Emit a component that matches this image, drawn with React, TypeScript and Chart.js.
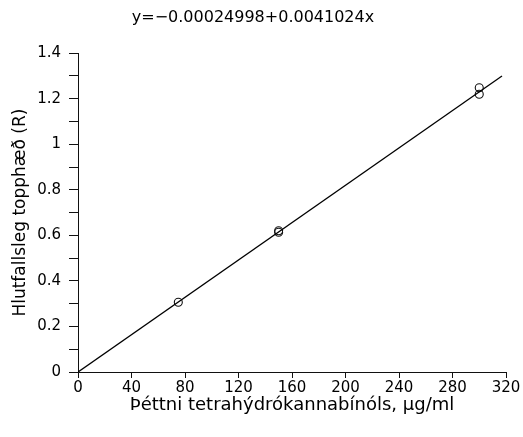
import React, { useEffect, useRef } from 'react';
import { Chart, registerables } from 'chart.js';

Chart.register(...registerables);

const chartTitle = 'y=−0.00024998+0.0041024x';
const xAxisTitle = 'Þéttni tetrahýdrókannabínóls, μg/ml';
const yAxisTitle = 'Hlutfallsleg topphæð (R)';

// measured points (concentration, relative peak area)
const concentration = [75, 150, 150, 300, 300];
const ratio = [0.306, 0.614, 0.62, 1.248, 1.22];

// fitted regression line endpoints
const fitX = [0, 317];
const fitY = [-0.00025, 1.3002];

const xMin = 0;
const xMax = 320;
const xStep = 40;
const yMin = 0;
const yMax = 1.4;
const yStep = 0.1;

const TICK_FONT = "'DejaVu Sans', 'Liberation Sans', sans-serif";
const TITLE_FONT = "'DejaVu Sans', 'Liberation Sans', sans-serif";

export default function App() {
  const canvasRef = useRef<HTMLCanvasElement | null>(null);

  useEffect(() => {
    const canvas = canvasRef.current;
    if (!canvas) return;
    const chart = new Chart(canvas, {
      type: 'scatter',
      data: {
        datasets: [
          {
            type: 'line',
            label: 'fit',
            data: fitX.map((x, i) => ({ x, y: fitY[i] })),
            borderColor: '#000',
            borderWidth: 1.3,
            pointRadius: 0,
            fill: false,
          },
          {
            type: 'scatter',
            label: 'data',
            data: concentration.map((x, i) => ({ x, y: ratio[i] })),
            borderColor: '#111',
            borderWidth: 1.1,
            backgroundColor: 'rgba(0,0,0,0)',
            pointRadius: 4,
            pointStyle: 'circle',
          },
        ],
      },
      options: {
        responsive: false,
        animation: false,
        devicePixelRatio: 1,
        layout: { padding: { left: 0, right: 17, top: 0, bottom: 0 } },
        plugins: {
          legend: { display: false },
          tooltip: { enabled: false },
          title: {
            display: true,
            text: chartTitle,
            color: '#000',
            font: { family: TITLE_FONT, size: 16, weight: 'normal' },
            padding: { top: 8, bottom: 26 },
          },
        },
        scales: {
          x: {
            type: 'linear',
            min: xMin,
            max: xMax,
            border: { display: true, color: '#111', width: 1 },
            grid: { drawOnChartArea: false, drawTicks: true, tickLength: 6, color: '#111' },
            ticks: {
              stepSize: xStep,
              color: '#000',
              padding: 1,
              maxRotation: 0,
              autoSkip: false,
              font: { family: TICK_FONT, size: 15 },
            },
            title: {
              display: true,
              text: xAxisTitle,
              color: '#000',
              font: { family: TITLE_FONT, size: 18 },
              padding: { top: 0, bottom: 21 },
            },
            afterFit: (s: any) => {
              s.height = 65;
            },
          },
          y: {
            type: 'linear',
            min: yMin,
            max: yMax,
            border: { display: true, color: '#111', width: 1 },
            grid: { drawOnChartArea: false, drawTicks: true, tickLength: 9, color: '#111' },
            ticks: {
              stepSize: yStep,
              color: '#000',
              padding: 8,
              autoSkip: false,
              font: { family: TICK_FONT, size: 15 },
              callback: (v: any) => {
                const r = Math.round(Number(v) * 10);
                if (r % 2 !== 0) return '';
                return String(r / 10);
              },
            },
            title: {
              display: true,
              text: yAxisTitle,
              color: '#000',
              font: { family: TITLE_FONT, size: 17 },
              padding: { top: 10, bottom: 0 },
            },
            afterFit: (s: any) => {
              s.width = 78;
            },
          },
        },
      },
    });
    return () => chart.destroy();
  }, []);

  return (
    <div style={{ position: 'absolute', left: 0, top: 0, width: 523, height: 437, background: '#fff' }}>
      <canvas ref={canvasRef} width={523} height={437} style={{ display: 'block' }} />
    </div>
  );
}
